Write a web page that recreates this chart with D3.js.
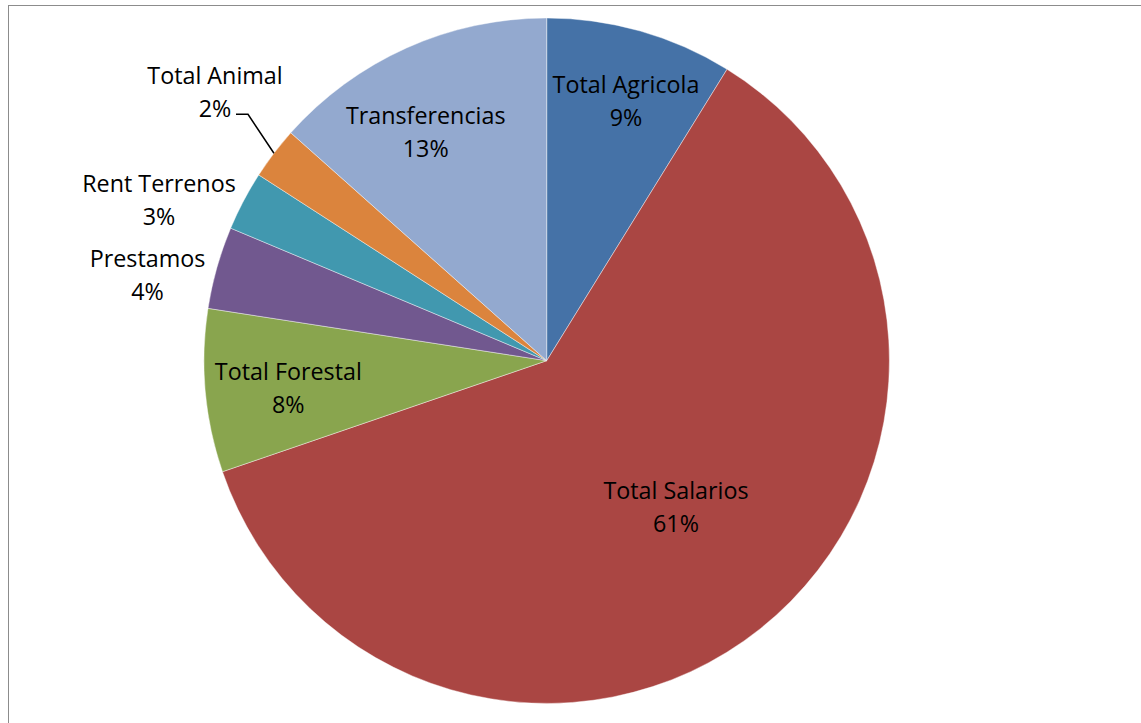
<!DOCTYPE html>
<html>
<head>
<meta charset="utf-8">
<script src="https://cdn.jsdelivr.net/npm/d3@7"></script>
<style>
  html, body { margin: 0; padding: 0; background: #fff; overflow: hidden; }
  svg { display: block; }
  text { font-family: "Open Sans", "Noto Sans", sans-serif; fill: #000; }
</style>
</head>
<body>
<svg id="chart" width="1141" height="723"></svg>
<script>
// ---- data ----
const categories = ["Total Agricola", "Total Salarios", "Total Forestal", "Prestamos", "Rent Terrenos", "Total Animal", "Transferencias"];
const values = [8.82, 60.93, 7.69, 3.88, 2.8, 2.46, 13.42];
const colors = ["#4572A7", "#AA4643", "#89A54E", "#71588F", "#4198AF", "#DB843D", "#93A9CF"];

// ---- layout (label anchors relative to pie centre: x centre, first baseline) ----
const labelLayout = [
  { dx: 79.3,  dy: -267.4, leader: false },
  { dx: 129.3, dy: 138.8,  leader: false },
  { dx: -258.4, dy: 19.3,  leader: false },
  { dx: -399.2, dy: -93.4, leader: false },
  { dx: -387.7, dy: -168.4, leader: false },
  { dx: -331.7, dy: -276.4, leader: true },
  { dx: -121.0, dy: -236.4, leader: false }
];

const W = 1141, H = 723;
const cx = 546.7, cy = 360.7, R = 342.7;
const lineGap = 33;
const fontSize = 23.3;

const svg = d3.select("#chart");

// chart area border (extends beyond the picture on right and bottom)
svg.append("rect")
  .attr("x", 8.5).attr("y", 5.5)
  .attr("width", W + 20).attr("height", H + 20)
  .attr("fill", "none")
  .attr("stroke", "#8c8c8c")
  .attr("stroke-width", 1);

const total = d3.sum(values);
const data = categories.map((c, i) => ({ name: c, value: values[i], color: colors[i], layout: labelLayout[i] }));

const pie = d3.pie().value(d => d.value).sort(null).startAngle(0).endAngle(2 * Math.PI);
const arcs = pie(data);
const arc = d3.arc().innerRadius(0).outerRadius(R);

const g = svg.append("g").attr("transform", `translate(${cx},${cy})`);

g.selectAll("path.slice")
  .data(arcs)
  .enter().append("path")
  .attr("class", "slice")
  .attr("d", arc)
  .attr("fill", d => d.data.color)
  .attr("stroke", "#ffffff")
  .attr("stroke-width", 0.6)
  .attr("stroke-opacity", 0.7);

// labels
const lab = g.selectAll("g.label")
  .data(arcs)
  .enter().append("g")
  .attr("class", "label");

lab.append("text")
  .attr("x", d => d.data.layout.dx)
  .attr("y", d => d.data.layout.dy)
  .attr("text-anchor", "middle")
  .style("font-size", fontSize + "px")
  .text(d => d.data.name);

lab.append("text")
  .attr("x", d => d.data.layout.dx)
  .attr("y", d => d.data.layout.dy + lineGap)
  .attr("text-anchor", "middle")
  .style("font-size", fontSize + "px")
  .text(d => Math.round(d.data.value / total * 100) + "%");

// leader line for small slice
lab.filter(d => d.data.layout.leader)
  .append("polyline")
  .attr("fill", "none")
  .attr("stroke", "#000")
  .attr("stroke-width", 1.5)
  .attr("points", d => {
    const l = d.data.layout;
    const mid = (d.startAngle + d.endAngle) / 2;
    const ex = R * Math.sin(mid), ey = -R * Math.cos(mid);
    const y0 = l.dy + lineGap - 3;
    const x0 = l.dx + 21;
    return [[x0, y0], [x0 + 12, y0], [ex, ey]].map(p => p.join(",")).join(" ");
  });
</script>
</body>
</html>
